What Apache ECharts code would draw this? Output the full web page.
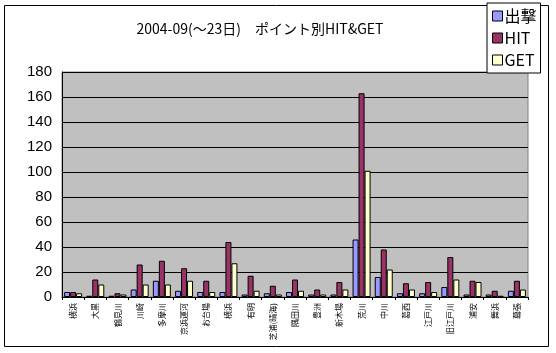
<!DOCTYPE html>
<html><head><meta charset="utf-8">
<script src="https://cdn.jsdelivr.net/npm/echarts@6/dist/echarts.min.js"></script>
<style>html,body{margin:0;padding:0;background:#fff}#c{width:556px;height:353px}</style>
</head><body><div id="c"></div>
<script>
var categories = ["横浜","大黒","鶴見川","川崎","多摩川","京浜運河","お台場","横浜","有明","芝浦(晴海)","隅田川","豊洲","新木場","荒川","中川","葛西","江戸川","旧江戸川","浦安","舞浜","幕張"];
var sortie = [4,1,1,6,13,5,4,4,2,3,4,2,2,46,16,3,3,8,2,2,5];
var hit    = [4,14,3,26,29,23,13,44,17,9,14,6,12,163,38,11,12,32,13,5,13];
var get    = [3,10,2,10,10,13,4,27,5,2,5,2,6,101,22,6,4,14,12,1,6];
var yTicks = {min:0, max:180, interval:20};
var font = '"Noto Sans CJK JP", sans-serif';
var chart = echarts.init(document.getElementById('c'));
function s(name, data, color){
  return {name:name, type:'bar', data:data, barWidth:6, barGap:'0%',
    itemStyle:{color:color, borderColor:'#000', borderWidth:1}, animation:false};
}
chart.setOption({
  animation:false,
  backgroundColor:'#fff',
  title:{text:'2004-09(～23日)　ポイント別HIT&GET', left:255, textAlign:'center', top:17,
    textStyle:{fontFamily:font, fontSize:14, fontWeight:'normal', color:'#000'}},
  legend:{orient:'vertical', left:487, top:3, padding:[5,4,5,5], itemGap:6,
    itemWidth:10, itemHeight:10, icon:'rect', borderColor:'#000', borderWidth:1, backgroundColor:'#fff',
    textStyle:{fontFamily:font, fontSize:16, color:'#000', padding:[0,0,0,-3]},
    data:['出撃','HIT','GET'],
    itemStyle:{borderColor:'#000', borderWidth:1}},
  grid:{left:62, right:28, top:72, bottom:56, show:true, backgroundColor:'#C0C0C0', borderColor:'#808080', borderWidth:1},
  xAxis:{type:'category', data:categories,
    axisLine:{lineStyle:{color:'#000', width:1}},
    axisTick:{show:true, length:3, lineStyle:{color:'#000'}},
    axisLabel:{rotate:90, interval:0, fontSize:8, fontFamily:font, color:'#000', margin:6}},
  yAxis:{type:'value', min:yTicks.min, max:yTicks.max, interval:yTicks.interval,
    axisLine:{show:true, lineStyle:{color:'#000'}},
    axisTick:{show:false},
    splitLine:{lineStyle:{color:'#000', width:1}},
    axisLabel:{fontSize:15, fontFamily:'"Liberation Sans", sans-serif', color:'#000', margin:10}},
  graphic:[{type:'rect', shape:{x:4.5, y:5.5, width:544, height:341}, style:{fill:null, stroke:'#000', lineWidth:1}, z:-1}],
  series:[s('出撃', sortie, '#9999FF'), s('HIT', hit, '#993366'), s('GET', get, '#FFFFCC')]
});
</script></body></html>
